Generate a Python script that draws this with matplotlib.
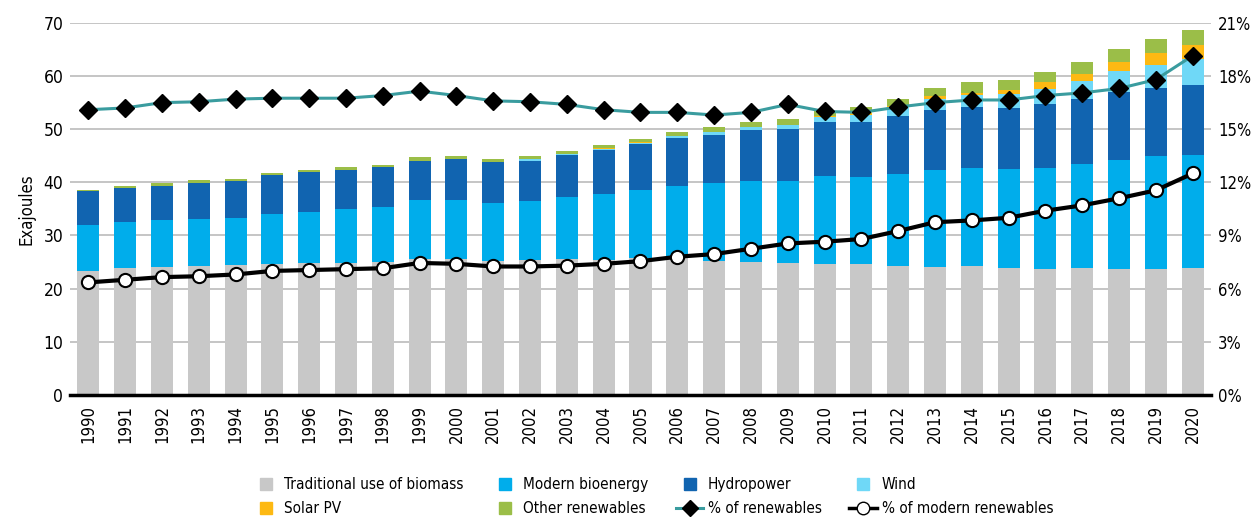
import numpy as np
import matplotlib.pyplot as plt
from matplotlib.lines import Line2D

plt.rcParams['font.family'] = ['DejaVu Sans']
plt.rcParams['font.stretch'] = 'condensed'

years = list(range(1990, 2021))

# cumulative tops (EJ)
trad = [23.35, 23.8, 24.0, 24.2, 24.4, 24.7, 24.9, 24.9, 25.1, 25.5, 25.5,
        25.2, 25.4, 25.6, 25.4, 25.7, 25.7, 25.2, 25.0, 24.8, 24.6,
        24.6, 24.3, 24.1, 24.3, 23.9, 23.7, 23.9, 23.7, 23.7, 23.9]
bio_top = [32.0, 32.5, 33.0, 33.1, 33.3, 34.1, 34.5, 34.9, 35.3, 36.7, 36.7,
           36.2, 36.5, 37.2, 37.8, 38.5, 39.3, 39.9, 40.2, 40.2, 41.2,
           41.0, 41.6, 42.3, 42.7, 42.5, 42.7, 43.4, 44.2, 44.9, 45.1]
hydro_top = [38.3, 39.0, 39.4, 39.9, 40.3, 41.3, 41.9, 42.3, 42.8, 44.1, 44.3,
             43.8, 44.1, 45.1, 46.1, 47.2, 48.4, 49.0, 49.8, 50.0, 51.3,
             51.3, 52.5, 53.6, 54.2, 54.0, 54.7, 55.6, 57.0, 57.8, 58.4]
wind_top = [38.3, 39.0, 39.4, 39.9, 40.3, 41.3, 41.9, 42.3, 42.8, 44.1, 44.4,
            43.9, 44.3, 45.3, 46.35, 47.4, 48.7, 49.4, 50.4, 50.7, 52.3,
            52.7, 54.1, 55.6, 56.5, 56.7, 57.6, 59.0, 60.9, 62.1, 63.2]
solar_top = [38.3, 39.0, 39.4, 39.9, 40.3, 41.3, 41.9, 42.3, 42.8, 44.1, 44.4,
             43.9, 44.3, 45.3, 46.5, 47.5, 48.8, 49.5, 50.5, 50.8, 52.5,
             53.0, 54.3, 56.2, 56.8, 57.3, 58.8, 60.3, 62.6, 64.3, 65.8]
other_top = [38.5, 39.3, 39.8, 40.4, 40.7, 41.7, 42.3, 42.9, 43.3, 44.8, 45.0,
             44.4, 45.0, 45.95, 47.0, 48.1, 49.5, 50.5, 51.4, 52.0, 53.4,
             54.2, 55.7, 57.8, 58.8, 59.3, 60.8, 62.7, 65.0, 66.9, 68.6]

pct_renew = [16.1, 16.2, 16.5, 16.55, 16.7, 16.75, 16.75, 16.75, 16.9, 17.15, 16.9,
             16.6, 16.55, 16.4, 16.1, 15.95, 15.95, 15.8, 15.95, 16.4, 16.0,
             15.95, 16.25, 16.5, 16.65, 16.65, 16.9, 17.05, 17.3, 17.8, 19.15]
pct_modern = [6.35, 6.5, 6.65, 6.7, 6.8, 7.0, 7.05, 7.1, 7.15, 7.45, 7.4,
              7.25, 7.25, 7.3, 7.4, 7.55, 7.8, 7.95, 8.25, 8.55, 8.65,
              8.8, 9.25, 9.75, 9.85, 10.0, 10.4, 10.7, 11.1, 11.55, 12.5]

x = np.arange(len(years))
trad = np.array(trad)
tops = [trad, np.array(bio_top), np.array(hydro_top), np.array(wind_top),
        np.array(solar_top), np.array(other_top)]
colors = ['#C8C8C8', '#00ADEB', '#1164B0', '#6FD8F7', '#FDB913', '#9BBE48']
labels = ['Traditional use of biomass', 'Modern bioenergy', 'Hydropower',
          'Wind', 'Solar PV', 'Other renewables']

fig = plt.figure(figsize=(12.55, 5.21), dpi=100)
ax = fig.add_axes([0.056, 0.242, 0.909, 0.714])

bottom = np.zeros(len(years))
for top, c in zip(tops, colors):
    ax.bar(x, top - bottom, 0.6, bottom=bottom, color=c, zorder=2)
    bottom = top

ax.set_ylim(0, 70)
ax.set_xlim(-0.49, len(years) - 0.5)
ax.set_yticks(range(0, 71, 10))
ax.yaxis.grid(True, color='#C0C0C0', linewidth=1.3, zorder=0)
ax.set_axisbelow(True)
for s in ['top', 'left', 'right']:
    ax.spines[s].set_visible(False)
ax.spines['bottom'].set_linewidth(2.5)
ax.spines['bottom'].set_zorder(5)
ax.tick_params(axis='y', length=0, labelsize=12.5, pad=5)
ax.tick_params(axis='x', length=0, labelsize=12, pad=7)
ax.set_xticks(x)
ax.set_xticklabels([str(y) for y in years], rotation=90)
ax.set_ylabel('Exajoules', fontsize=12, labelpad=6)

ax2 = ax.twinx()
ax2.set_ylim(0, 21)
ax2.set_yticks(range(0, 22, 3))
ax2.set_yticklabels([f'{v}%' for v in range(0, 22, 3)])
ax2.tick_params(axis='y', length=0, labelsize=12, pad=5)
for s in ['top', 'left', 'right', 'bottom']:
    ax2.spines[s].set_visible(False)
ax2.plot(x, pct_renew, color='#3A9C9F', linewidth=2.2, marker='D', markersize=9,
         markerfacecolor='black', markeredgecolor='black', zorder=4)
ax2.plot(x, pct_modern, color='black', linewidth=3, marker='o', markersize=9.5,
         markerfacecolor='white', markeredgecolor='black', markeredgewidth=1.5, zorder=4)

# square swatches like the original legend
h = [Line2D([], [], marker='s', linestyle='none', markersize=8, color=c, label=l)
     for c, l in zip(colors, labels)]
h_renew = Line2D([], [], color='#3A9C9F', linewidth=2.2, marker='D', markersize=8,
                 markerfacecolor='black', markeredgecolor='black', label='% of renewables')
h_mod = Line2D([], [], color='black', linewidth=2.5, marker='o', markersize=9,
               markerfacecolor='white', markeredgecolor='black', label='% of modern renewables')
order = [h[0], h[4], h[1], h[5], h[2], h_renew, h[3], h_mod]
fig.legend(handles=order, loc='upper center', bbox_to_anchor=(0.52, 0.084), ncol=4,
           frameon=False, fontsize=11, handlelength=1.8, handleheight=0.6,
           columnspacing=1.8, labelspacing=0.6, handletextpad=0.3,
           borderaxespad=0, borderpad=0)

fig.savefig('out.png', dpi=100)
